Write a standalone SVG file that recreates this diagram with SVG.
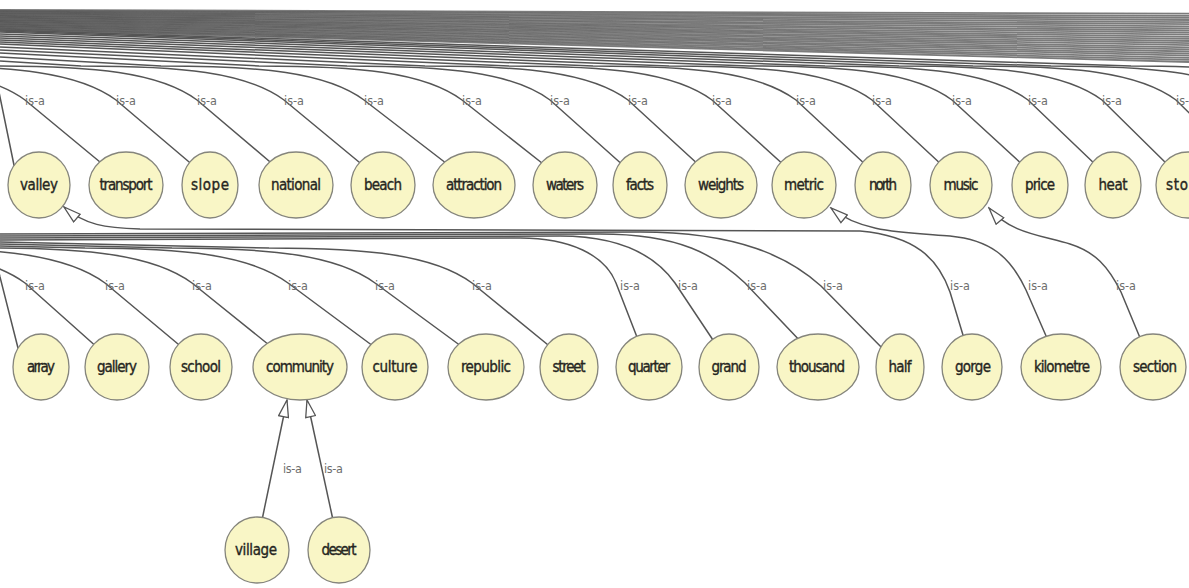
<svg xmlns="http://www.w3.org/2000/svg" width="1189" height="588" viewBox="0 0 1189 588">
  <style>
    .bundle { fill: none; stroke: #505050; stroke-width: 1.8; stroke-opacity: 0.75; }
    .edge { fill: none; stroke: #555; stroke-width: 1.5; }
    .isa { font-family: "DejaVu Sans Condensed", "DejaVu Sans", sans-serif; font-size: 12.5px; fill: #6e6e6e; }
    .node ellipse { fill: #f9f6c6; stroke: #85857c; stroke-width: 1.3; }
    .node text { font-family: "DejaVu Sans Condensed", "DejaVu Sans", sans-serif; font-size: 15px; fill: #26261f; stroke: #26261f; stroke-width: 0.35; text-anchor: middle; }
  </style>
  <defs>
    <marker id="tri" markerUnits="userSpaceOnUse" markerWidth="20" markerHeight="12" viewBox="0 0 20 12" refX="18" refY="6" orient="auto">
      <path d="M1,1 L18,6 L1,11 Z" fill="#fff" stroke="#555" stroke-width="1.3"/>
    </marker>
    <filter id="soft" x="-2%" y="-20%" width="104%" height="140%">
      <feGaussianBlur stdDeviation="0.6"/>
    </filter>
  </defs>
  <rect width="1189" height="588" fill="#fff"/>

  <g id="connectors">
    <!-- upper bundle: is-a edges running off to the right -->
    <g class="bundle" filter="url(#soft)">
      <path d="M0,29.5 L1189,62"/>
      <path d="M0,28.65 L1189,59.9"/>
      <path d="M0,27.8 L1189,57.8"/>
      <path d="M0,26.95 L1189,55.7"/>
      <path d="M0,26.1 L1189,53.6"/>
      <path d="M0,25.25 L1189,51.5"/>
      <path d="M0,24.4 L1189,49.4"/>
      <path d="M0,23.55 L1189,47.3"/>
      <path d="M0,22.7 L1189,45.2"/>
      <path d="M0,21.85 L1189,43.1"/>
      <path d="M0,21 L1189,41"/>
      <path d="M0,20.15 L1189,38.9"/>
      <path d="M0,19.3 L1189,36.8"/>
      <path d="M0,18.45 L1189,34.7"/>
      <path d="M0,17.6 L1189,32.6"/>
      <path d="M0,16.75 L1189,30.5"/>
      <path d="M0,15.9 L1189,28.4"/>
      <path d="M0,15.05 L1189,26.3"/>
      <path d="M0,14.2 L1189,24.2"/>
      <path d="M0,13.35 L1189,22.1"/>
      <path d="M0,12.5 L1189,20"/>
      <path d="M0,11.65 L1189,17.9"/>
      <path d="M0,10.8 L1189,15.8"/>
      <path d="M0,9.95 L1189,13.7"/>
    </g>

    <!-- row 1 edges -->
    <g class="edge">
      <path d="M-60,50 C-20,55 -4,75 0,97 L15,170"/>
      <path d="M-178,66 C-78,66 -13,72 25,100 L106,167"/>
      <path d="M-87,66 C13,66 78,72 116,100 L195,167"/>
      <path d="M-6,66 C94,66 159,72 197,100 L276,167"/>
      <path d="M0,61 L81,66 C181,66 246,72 284,100 L365,167"/>
      <path d="M0,57 L161,66 C261,66 326,72 364,100 L451,167"/>
      <path d="M0,53 L259,66 C359,66 424,72 462,100 L547,167"/>
      <path d="M0,50 L347,66 C447,66 512,72 550,100 L625,167"/>
      <path d="M0,47 L425,66 C525,66 590,72 628,100 L701,167"/>
      <path d="M0,44 L509,66 C609,66 674,72 712,100 L786,167"/>
      <path d="M0,42 L593,66 C693,66 758,72 796,100 L868,167"/>
      <path d="M0,40 L669,66 C769,66 834,72 872,100 L944,167"/>
      <path d="M0,38 L749,66 C849,66 914,72 952,100 L1025,167"/>
      <path d="M0,36 L825,66 C925,66 990,72 1028,100 L1098,167"/>
      <path d="M0,34 L899,66 C999,66 1064,72 1102,100 L1170,167"/>
      <path d="M0,32 L973,66 C1073,66 1138,72 1176,100 L1244,167"/>
      <path d="M0,31 L1051,66 C1151,66 1216,72 1254,100 L1322,167"/>
      <path d="M0,30 L1131,66 C1231,66 1296,72 1334,100 L1400,167"/>
    </g>

    <!-- row 2 edges -->
    <g class="edge">
      <path d="M-60,232 C-20,237 -4,257 0,277 L19,352"/>
      <path d="M-178,248 C-78,248 -13,255 25,283 L99,349"/>
      <path d="M-98,248 C2,248 67,255 105,283 L184,349"/>
      <path d="M-11,248 C89,248 154,255 192,283 L274,349"/>
      <path d="M0,246 L85,248 C185,248 250,255 288,283 L377,349"/>
      <path d="M0,244 L172,248 C272,248 337,255 375,283 L465,349"/>
      <path d="M0,242 L269,248 C369,248 434,255 472,283 L553,349"/>
      <path d="M0,240 L520,238 C570,238 605,255 616,283 L642,350"/>
      <path d="M0,238 L560,236 C620,236 655,255 675,283 L715,343"/>
      <path d="M0,236 L600,234 C680,234 715,255 745,283 L803,344"/>
      <path d="M0,234 L640,232 C740,232 790,258 821,286 L886,352"/>
      <!-- edges ending in hollow arrowheads -->
      <path d="M966,345 L950,292 C938,258 915,236 860,231 L140,229 C105,228 85,225 64,207" marker-end="url(#tri)"/>
      <path d="M1050,345 L1026,290 C1010,256 990,240 950,236 C900,232 860,232 831,208" marker-end="url(#tri)"/>
      <path d="M1143,345 L1121,292 C1108,266 1095,252 1070,244 C1040,235 1010,233 989,208" marker-end="url(#tri)"/>
      <path d="M262,520 L287,400" marker-end="url(#tri)"/>
      <path d="M333,520 L307,400" marker-end="url(#tri)"/>
    </g>

    <!-- edge labels -->
    <g class="isa">
      <text x="25" y="105" textLength="20">is-a</text>
      <text x="116" y="105" textLength="20">is-a</text>
      <text x="197" y="105" textLength="20">is-a</text>
      <text x="284" y="105" textLength="20">is-a</text>
      <text x="364" y="105" textLength="20">is-a</text>
      <text x="462" y="105" textLength="20">is-a</text>
      <text x="550" y="105" textLength="20">is-a</text>
      <text x="628" y="105" textLength="20">is-a</text>
      <text x="712" y="105" textLength="20">is-a</text>
      <text x="796" y="105" textLength="20">is-a</text>
      <text x="872" y="105" textLength="20">is-a</text>
      <text x="952" y="105" textLength="20">is-a</text>
      <text x="1028" y="105" textLength="20">is-a</text>
      <text x="1102" y="105" textLength="20">is-a</text>
      <text x="1176" y="105" textLength="20">is-a</text>
      <text x="25" y="290" textLength="20">is-a</text>
      <text x="105" y="290" textLength="20">is-a</text>
      <text x="192" y="290" textLength="20">is-a</text>
      <text x="288" y="290" textLength="20">is-a</text>
      <text x="375" y="290" textLength="20">is-a</text>
      <text x="472" y="290" textLength="20">is-a</text>
      <text x="620" y="290" textLength="20">is-a</text>
      <text x="678" y="290" textLength="20">is-a</text>
      <text x="747" y="290" textLength="20">is-a</text>
      <text x="823" y="290" textLength="20">is-a</text>
      <text x="950" y="290" textLength="20">is-a</text>
      <text x="1028" y="290" textLength="20">is-a</text>
      <text x="1116" y="290" textLength="20">is-a</text>
      <text x="283" y="473" textLength="19">is-a</text>
      <text x="324" y="473" textLength="19">is-a</text>
    </g>
  </g>

  <!-- row 1 -->
  <g id="node-valley" class="node"><ellipse cx="39" cy="185" rx="31" ry="33"/><text x="39" y="190" textLength="38">valley</text></g>
  <g id="node-transport" class="node"><ellipse cx="126" cy="185" rx="37" ry="33"/><text x="126" y="190" textLength="53">transport</text></g>
  <g id="node-slope" class="node"><ellipse cx="210" cy="185" rx="28" ry="33"/><text x="210" y="190" textLength="38">slope</text></g>
  <g id="node-national" class="node"><ellipse cx="296" cy="185" rx="37" ry="33"/><text x="296" y="190" textLength="50">national</text></g>
  <g id="node-beach" class="node"><ellipse cx="383" cy="185" rx="32" ry="33"/><text x="383" y="190" textLength="38">beach</text></g>
  <g id="node-attraction" class="node"><ellipse cx="474" cy="185" rx="41" ry="33"/><text x="474" y="190" textLength="56">attraction</text></g>
  <g id="node-waters" class="node"><ellipse cx="565" cy="185" rx="32" ry="33"/><text x="565" y="190" textLength="38">waters</text></g>
  <g id="node-facts" class="node"><ellipse cx="640" cy="185" rx="27" ry="33"/><text x="640" y="190" textLength="28">facts</text></g>
  <g id="node-weights" class="node"><ellipse cx="721" cy="185" rx="36" ry="33"/><text x="721" y="190" textLength="46">weights</text></g>
  <g id="node-metric" class="node"><ellipse cx="804" cy="185" rx="32" ry="33"/><text x="804" y="190" textLength="40">metric</text></g>
  <g id="node-north" class="node"><ellipse cx="883" cy="185" rx="28" ry="33"/><text x="883" y="190" textLength="28">north</text></g>
  <g id="node-music" class="node"><ellipse cx="961" cy="185" rx="31" ry="33"/><text x="961" y="190" textLength="35">music</text></g>
  <g id="node-price" class="node"><ellipse cx="1040" cy="185" rx="28" ry="33"/><text x="1040" y="190" textLength="30">price</text></g>
  <g id="node-heat" class="node"><ellipse cx="1113" cy="185" rx="28" ry="33"/><text x="1113" y="190" textLength="29">heat</text></g>
  <g id="node-sto" class="node"><ellipse cx="1188" cy="185" rx="32" ry="33"/><text x="1166" y="190" textLength="22" style="text-anchor:start">sto</text></g>

  <!-- row 2 -->
  <g id="node-array" class="node"><ellipse cx="41" cy="367" rx="28" ry="33"/><text x="41" y="372" textLength="28">array</text></g>
  <g id="node-gallery" class="node"><ellipse cx="117" cy="367" rx="32" ry="33"/><text x="117" y="372" textLength="40">gallery</text></g>
  <g id="node-school" class="node"><ellipse cx="201" cy="367" rx="31" ry="33"/><text x="201" y="372" textLength="40">school</text></g>
  <g id="node-community" class="node"><ellipse cx="300" cy="367" rx="47" ry="33"/><text x="300" y="372" textLength="68">community</text></g>
  <g id="node-culture" class="node"><ellipse cx="395" cy="367" rx="33" ry="33"/><text x="395" y="372" textLength="45">culture</text></g>
  <g id="node-republic" class="node"><ellipse cx="486" cy="367" rx="38" ry="33"/><text x="486" y="372" textLength="50">republic</text></g>
  <g id="node-street" class="node"><ellipse cx="569" cy="367" rx="29" ry="33"/><text x="569" y="372" textLength="33">street</text></g>
  <g id="node-quarter" class="node"><ellipse cx="649" cy="367" rx="33" ry="33"/><text x="649" y="372" textLength="42">quarter</text></g>
  <g id="node-grand" class="node"><ellipse cx="729" cy="367" rx="30" ry="33"/><text x="729" y="372" textLength="35">grand</text></g>
  <g id="node-thousand" class="node"><ellipse cx="818" cy="367" rx="41" ry="33"/><text x="817" y="372" textLength="56">thousand</text></g>
  <g id="node-half" class="node"><ellipse cx="900" cy="367" rx="24" ry="33"/><text x="900" y="372" textLength="23">half</text></g>
  <g id="node-gorge" class="node"><ellipse cx="972" cy="367" rx="30" ry="33"/><text x="973" y="372" textLength="36">gorge</text></g>
  <g id="node-kilometre" class="node"><ellipse cx="1061" cy="367" rx="40" ry="33"/><text x="1062" y="372" textLength="56">kilometre</text></g>
  <g id="node-section" class="node"><ellipse cx="1153" cy="367" rx="33" ry="33"/><text x="1155" y="372" textLength="44">section</text></g>

  <!-- row 3 -->
  <g id="node-village" class="node"><ellipse cx="257" cy="550" rx="32" ry="33"/><text x="256" y="555" textLength="42">village</text></g>
  <g id="node-desert" class="node"><ellipse cx="339" cy="550" rx="31" ry="33"/><text x="339" y="555" textLength="35">desert</text></g>
</svg>
